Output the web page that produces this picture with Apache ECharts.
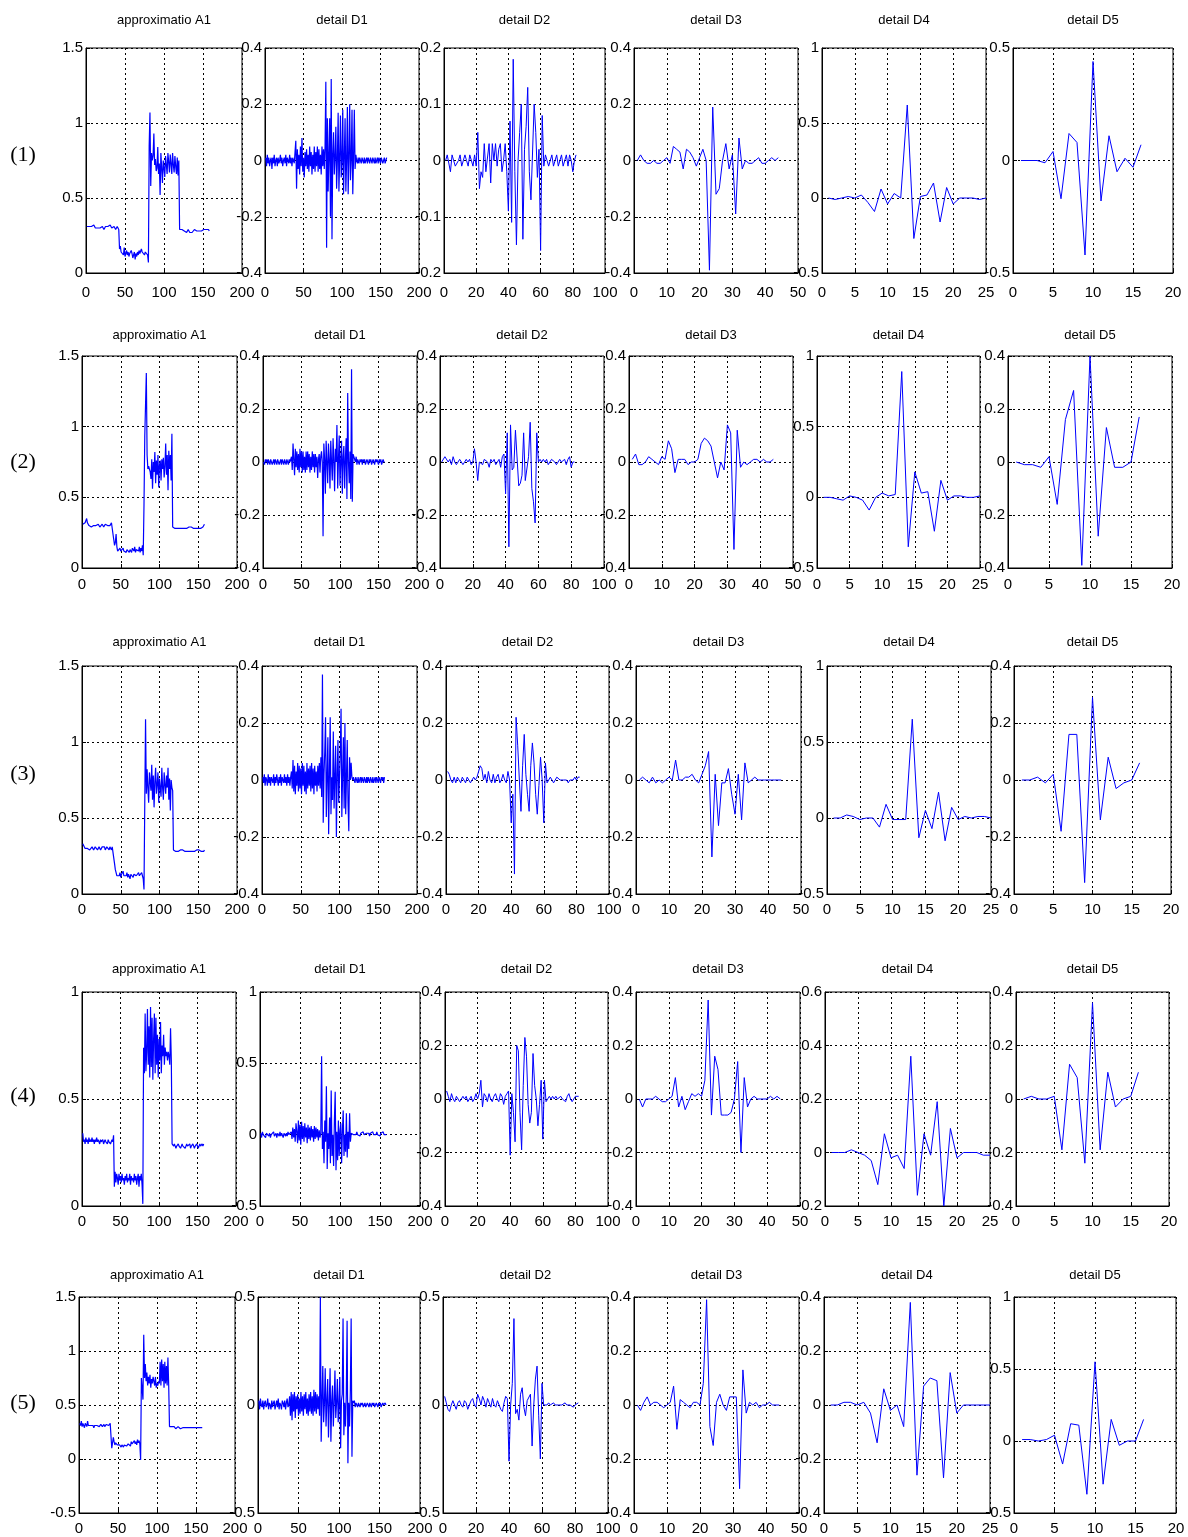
<!DOCTYPE html>
<html><head><meta charset="utf-8">
<script src="https://cdn.jsdelivr.net/npm/echarts@6/dist/echarts.min.js"></script>
<style>html,body{margin:0;padding:0;background:#fff}#c{width:1188px;height:1537px}</style>
</head><body><div id="c"></div>
<script>
// ---------- DATA ----------
const titles = ['approximatio A1','detail D1','detail D2','detail D3','detail D4','detail D5'];
const rowLabels = ['(1)','(2)','(3)','(4)','(5)'];
const xMax = [200,200,100,50,25,20];
const xStep = [50,50,20,10,5,5];
// y-axis tick ranges [min,max,step] per row / column
const yTicks = [
 [[0,1.5,0.5],[-0.4,0.4,0.2],[-0.2,0.2,0.1],[-0.4,0.4,0.2],[-0.5,1,0.5],[-0.5,0.5,0.5]],
 [[0,1.5,0.5],[-0.4,0.4,0.2],[-0.4,0.4,0.2],[-0.4,0.4,0.2],[-0.5,1,0.5],[-0.4,0.4,0.2]],
 [[0,1.5,0.5],[-0.4,0.4,0.2],[-0.4,0.4,0.2],[-0.4,0.4,0.2],[-0.5,1,0.5],[-0.4,0.4,0.2]],
 [[0,1,0.5],[-0.5,1,0.5],[-0.4,0.4,0.2],[-0.4,0.4,0.2],[-0.2,0.6,0.2],[-0.4,0.4,0.2]],
 [[-0.5,1.5,0.5],[-0.5,0.5,0.5],[-0.5,0.5,0.5],[-0.4,0.4,0.2],[-0.4,0.4,0.2],[-0.5,1,0.5]]
];

const r1A1 = [0.31,0.30,0.31,0.31,0.30,0.32,0.31,0.30,0.31,0.32,0.31,0.30,0.30,0.31,0.30,0.29,0.29,0.30,0.29,0.30,0.31,0.30,0.29,0.30,0.31,0.32,0.31,0.31,0.30,0.31,0.32,0.31,0.30,0.31,0.30,0.31,0.30,0.29,0.30,0.31,0.30,0.29,
0.16,0.18,0.14,0.13,0.15,0.12,0.17,0.11,0.13,0.15,0.12,0.14,0.11,0.13,0.12,0.15,0.13,0.10,0.12,0.14,0.09,0.13,0.11,0.14,0.12,0.15,0.13,0.12,0.16,0.14,0.13,0.15,0.12,0.14,0.13,0.15,0.12,0.07,
0.85,1.07,0.58,0.80,0.75,0.78,0.93,0.72,0.76,0.68,0.70,0.84,0.66,0.73,0.52,0.80,0.70,0.60,0.75,0.70,0.64,0.78,0.72,0.66,0.80,0.74,0.67,0.79,0.73,0.66,0.80,0.72,0.67,0.78,0.71,0.66,0.77,0.65,0.75,0.29,
0.29,0.28,0.29,0.28,0.29,0.28,0.29,0.28,0.27,0.28,0.29,0.28,0.27,0.28,0.27,0.27,0.28,0.28,0.29,0.28,0.29,0.28,0.29,0.29,0.28,0.28,0.29,0.28,0.29,0.28,0.29,0.28,0.28,0.29,0.28,0.28,0.29,0.28];
const r1D1 = [0.01,-0.02,0.02,-0.01,0.01,-0.02,0.00,0.01,-0.03,0.01,-0.01,0.02,-0.02,0.00,0.01,-0.02,0.01,-0.01,0.00,0.02,-0.01,0.01,-0.02,0.00,0.01,-0.01,0.02,-0.02,0.01,0.00,-0.01,0.02,-0.01,0.01,-0.02,0.01,0.00,-0.01,
0.03,0.07,-0.10,0.04,-0.03,0.02,-0.05,0.05,-0.02,0.08,-0.04,0.01,-0.06,0.03,-0.02,0.04,-0.03,0.02,-0.04,0.05,-0.02,0.03,-0.05,0.02,-0.03,0.05,-0.04,0.03,-0.02,0.05,-0.04,0.04,-0.03,0.02,-0.05,0.05,-0.02,0.04,-0.03,
0.05,0.28,-0.31,0.15,-0.11,0.02,0.15,-0.20,0.29,-0.28,0.02,0.10,-0.05,0.01,0.12,-0.10,0.00,0.17,-0.11,0.01,0.16,-0.06,0.00,0.18,-0.12,0.01,0.15,-0.11,0.00,0.19,-0.12,0.01,0.20,-0.07,0.00,0.18,-0.12,0.01,0.18,-0.03,0.02,
0.00,-0.01,0.01,-0.01,0.01,0.00,-0.01,0.01,0.00,-0.01,0.01,-0.01,0.00,0.01,-0.01,0.01,0.00,-0.01,0.01,0.00,-0.01,0.01,0.00,-0.01,0.01,-0.01,0.00,0.01,-0.01,0.01,0.00,-0.01,0.01,0.00,-0.01,0.00,0.01,-0.01,0.00,0.01];
const r1D2 = [0.00,0.01,0.01,-0.02,0.01,0.01,-0.01,-0.01,0.00,0.01,-0.01,-0.01,0.01,0.00,-0.01,0.01,0.01,-0.01,0.01,-0.01,
0.05,-0.05,-0.02,-0.03,0.03,-0.02,-0.02,0.03,-0.04,0.03,0.00,0.03,-0.01,0.02,0.03,-0.02,0.00,0.03,-0.02,-0.09,
0.07,-0.11,0.18,-0.02,-0.15,0.00,0.05,0.10,-0.14,0.02,0.06,0.13,-0.02,-0.07,-0.07,0.10,0.05,-0.03,0.02,-0.16,0.08,-0.01,
0.01,0.00,-0.01,0.00,0.01,-0.01,0.00,0.01,-0.01,0.00,0.01,-0.01,0.00,0.01,-0.01,0.01,0.00,-0.02,0.00,0.01];
const r1D3 = [0.00,0.02,0.00,-0.01,-0.01,0.00,-0.01,-0.01,0.00,0.01,-0.01,0.05,0.04,0.03,-0.03,0.04,0.03,0.01,-0.02,0.01,0.04,0.00,-0.39,0.19,-0.12,-0.10,0.00,0.06,-0.03,0.02,-0.19,0.08,-0.03,0.00,-0.01,-0.01,0.00,0.01,-0.01,-0.01,0.00,0.01,0.00,0.01];
const r1D4 = [0.00,-0.01,0.00,0.01,0.00,0.02,-0.03,-0.09,0.06,-0.04,0.03,0.00,0.62,-0.27,0.01,0.02,0.10,-0.16,0.07,-0.04,0.00,0.00,0.00,-0.01,0.00];
const r1D5 = [0.00,0.00,0.00,-0.01,0.04,-0.17,0.12,0.08,-0.42,0.44,-0.18,0.11,-0.05,0.01,-0.03,0.07];

const r2A1 = [0.31,0.30,0.31,0.32,0.33,0.35,0.32,0.31,0.30,0.29,0.30,0.29,0.30,0.29,0.30,0.29,0.30,0.30,0.29,0.30,0.31,0.30,0.29,0.30,0.30,0.31,0.30,0.29,0.30,0.31,0.30,0.31,0.30,0.30,0.31,0.30,0.31,0.32,0.31,0.33,
0.20,0.16,0.18,0.24,0.15,0.12,0.13,0.11,0.14,0.12,0.13,0.11,0.14,0.12,0.13,0.12,0.11,0.13,0.12,0.14,0.11,0.13,0.12,0.11,0.14,0.13,0.12,0.15,0.11,0.13,0.12,0.14,0.12,0.15,0.11,0.14,0.12,0.16,0.09,
0.45,0.93,0.94,1.38,0.80,0.70,0.72,0.70,0.68,0.63,0.77,0.56,0.75,0.68,0.82,0.60,0.76,0.66,0.80,0.57,0.73,0.76,0.62,0.77,0.70,0.78,0.64,0.72,0.88,0.66,0.80,0.55,0.83,0.70,0.80,0.62,0.95,0.29,0.29,
0.29,0.28,0.29,0.28,0.28,0.29,0.28,0.28,0.29,0.28,0.28,0.28,0.29,0.28,0.28,0.29,0.28,0.28,0.28,0.29,0.28,0.28,0.29,0.28,0.28,0.28,0.29,0.28,0.28,0.29,0.28,0.28,0.29,0.28,0.28,0.29,0.28,0.29,0.30,0.31];
const r2D1 = [0.00,-0.01,0.01,0.00,0.01,-0.01,0.01,0.00,-0.01,0.01,0.01,-0.01,0.00,0.01,-0.01,0.01,0.00,-0.01,0.01,0.01,-0.01,0.00,0.01,-0.01,0.01,0.00,-0.01,0.01,0.00,-0.01,0.01,0.00,-0.01,0.01,0.00,0.01,
0.02,-0.03,0.07,0.01,-0.05,0.05,-0.02,0.04,-0.03,0.03,-0.04,0.05,-0.02,0.04,-0.04,0.04,-0.03,0.02,-0.04,0.04,-0.03,0.04,-0.02,0.03,-0.04,0.02,-0.03,0.04,-0.02,0.03,-0.04,0.03,-0.02,0.02,-0.06,0.01,0.03,-0.04,0.02,
0.04,0.00,-0.28,0.07,0.01,-0.12,0.08,0.00,-0.08,0.07,0.01,-0.10,0.08,0.00,-0.07,0.09,0.01,-0.11,0.05,0.00,0.14,-0.10,0.01,0.10,-0.09,0.00,0.08,-0.12,0.02,0.06,-0.10,0.01,0.09,-0.14,0.26,0.00,-0.08,0.04,-0.14,0.35,-0.15,0.03,0.02,
0.01,0.00,0.02,-0.01,0.01,0.00,-0.01,0.01,0.00,0.01,-0.01,0.01,0.00,0.01,-0.01,0.00,0.01,0.00,-0.01,0.01,0.00,0.01,-0.01,0.00,0.01,0.00,-0.01,0.01,0.00,0.01,0.00,-0.01,0.01,0.00,0.01,-0.01,0.00,0.01,0.00,0.00];
const r2D2 = [0.00,0.00,0.02,0.02,0.00,0.01,-0.01,0.02,0.00,-0.01,0.00,0.01,0.01,-0.01,0.00,0.01,0.00,0.01,-0.01,0.00,
0.05,0.00,-0.07,0.00,0.00,-0.01,0.01,0.01,0.00,-0.02,0.01,0.00,0.01,-0.01,0.00,0.01,-0.02,0.02,0.03,
-0.12,0.11,-0.32,0.14,-0.03,-0.02,0.12,0.12,-0.09,-0.08,-0.05,0.11,-0.07,-0.07,0.02,0.15,-0.10,-0.15,-0.23,0.11,0.00,0.01,0.00,
0.01,0.00,0.01,-0.01,0.00,0.01,0.01,0.00,-0.01,0.00,0.01,0.00,0.00,0.01,-0.01,0.01,0.02,-0.02,0.00,0.00];
const r2D3 = [0.01,0.03,-0.01,-0.01,0.00,0.02,0.01,0.00,-0.01,0.02,0.01,0.08,0.05,-0.04,0.01,0.01,0.01,-0.01,0.00,0.00,0.01,0.07,0.09,0.08,0.06,0.00,-0.06,0.00,-0.03,0.14,0.11,-0.33,0.12,-0.02,0.00,-0.01,0.00,0.01,0.01,0.00,0.01,0.00,0.00,0.01];
const r2D4 = [0.00,0.00,-0.01,-0.02,0.01,0.00,-0.02,-0.09,0.00,0.03,0.01,0.02,0.89,-0.35,0.18,0.03,0.04,-0.24,0.12,-0.02,0.01,0.01,0.00,0.00,0.01];
const r2D5 = [0.00,-0.01,-0.01,-0.02,0.02,-0.16,0.16,0.27,-0.39,0.40,-0.28,0.13,-0.02,-0.02,0.00,0.17];

const r3A1 = [0.33,0.32,0.33,0.30,0.31,0.29,0.30,0.31,0.30,0.29,0.30,0.30,0.31,0.30,0.29,0.30,0.31,0.30,0.30,0.29,0.30,0.31,0.30,0.29,0.30,0.31,0.30,0.30,0.31,0.29,0.30,0.31,0.30,0.30,0.29,0.31,0.30,0.29,0.31,0.30,0.32,
0.20,0.16,0.14,0.12,0.13,0.11,0.12,0.14,0.11,0.13,0.12,0.15,0.12,0.11,0.13,0.12,0.14,0.11,0.13,0.12,0.10,0.13,0.12,0.14,0.11,0.13,0.12,0.14,0.12,0.11,0.13,0.14,0.12,0.13,0.11,0.14,0.12,0.10,0.03,
0.60,1.15,0.66,0.82,0.70,0.60,0.80,0.74,0.68,0.85,0.62,0.78,0.57,0.74,0.83,0.66,0.72,0.80,0.60,0.76,0.70,0.64,0.83,0.70,0.62,0.80,0.72,0.66,0.78,0.70,0.83,0.62,0.76,0.55,0.75,0.70,0.68,0.29,
0.28,0.29,0.28,0.28,0.29,0.28,0.28,0.28,0.29,0.28,0.28,0.29,0.28,0.28,0.28,0.29,0.28,0.28,0.29,0.28,0.28,0.28,0.29,0.28,0.28,0.29,0.28,0.28,0.28,0.29,0.28,0.28,0.29,0.28,0.28,0.28,0.29,0.28,0.28,0.29];
const r3D1 = [0.01,-0.01,0.02,-0.02,0.01,0.00,-0.02,0.02,-0.01,0.01,-0.02,0.01,0.00,-0.01,0.02,-0.02,0.01,-0.01,0.02,0.00,-0.02,0.01,-0.01,0.02,-0.02,0.01,0.00,-0.01,0.02,-0.01,0.01,-0.02,0.02,-0.01,0.01,-0.02,0.01,
0.03,-0.03,0.07,-0.04,0.05,-0.05,0.03,-0.02,0.06,-0.04,0.05,-0.03,0.04,-0.05,0.06,-0.02,0.05,-0.04,0.03,-0.05,0.06,-0.03,0.04,-0.02,0.05,-0.04,0.06,-0.03,0.04,-0.05,0.05,-0.02,0.03,-0.04,0.05,-0.02,0.06,-0.03,
0.08,-0.06,0.37,-0.15,0.02,0.10,0.22,-0.13,0.01,0.15,-0.19,0.02,0.22,-0.12,0.01,-0.07,0.17,-0.10,0.01,0.12,-0.20,0.02,0.14,-0.08,0.01,0.10,0.25,-0.13,0.02,0.15,-0.10,0.20,-0.12,0.01,0.14,-0.08,-0.18,0.08,0.00,0.06,0.01,0.00,0.01,
0.01,-0.01,0.01,0.00,-0.01,0.01,-0.01,0.00,0.01,-0.01,0.01,0.00,-0.01,0.01,0.00,-0.01,0.01,-0.01,0.01,0.00,-0.01,0.01,0.00,-0.01,0.01,-0.01,0.00,0.01,-0.01,0.01,0.00,-0.01,0.01,0.00,-0.01,0.01,0.00,0.01,-0.01,0.01];
const r3D2 = [0.03,0.02,0.00,-0.01,0.01,-0.01,0.01,0.00,-0.01,0.01,0.00,-0.01,0.01,0.01,-0.01,0.00,0.01,0.00,0.01,0.01,
0.05,0.04,0.00,0.02,-0.01,0.03,0.00,-0.01,0.02,-0.01,0.01,0.02,-0.01,0.00,0.02,0.00,-0.01,0.03,0.00,
-0.15,-0.05,-0.33,0.22,0.12,0.00,-0.11,0.05,0.16,0.02,-0.05,-0.11,0.05,0.13,0.06,-0.05,-0.12,-0.02,0.08,0.00,-0.15,0.06,-0.01,
0.00,0.01,0.00,-0.01,0.00,0.01,0.01,0.00,0.00,0.00,0.00,0.00,-0.01,0.00,0.00,0.00,0.01,0.00,0.01,0.01];
const r3D3 = [0.00,0.01,0.00,-0.01,0.01,-0.01,0.00,-0.01,0.00,0.01,0.00,0.07,0.00,0.00,0.01,0.01,0.02,0.00,-0.01,0.02,0.05,0.10,-0.27,0.02,-0.16,-0.01,-0.01,0.04,-0.05,-0.12,0.02,-0.14,0.06,-0.01,0.00,0.01,0.00,0.00,0.00,0.00,0.00,0.00,0.00,0.00];
const r3D4 = [0.00,0.00,0.02,0.01,-0.01,0.00,0.00,-0.06,0.09,-0.01,-0.01,-0.01,0.65,-0.13,0.05,-0.07,0.17,-0.15,0.07,-0.01,0.01,0.00,0.01,0.01,0.00];
const r3D5 = [0.00,0.00,0.01,-0.01,0.02,-0.18,0.16,0.16,-0.36,0.29,-0.14,0.08,-0.03,-0.01,0.00,0.06];

const r4A1 = [0.34,0.30,0.31,0.29,0.32,0.30,0.31,0.29,0.32,0.30,0.31,0.30,0.32,0.30,0.31,0.29,0.31,0.30,0.32,0.30,0.31,0.30,0.29,0.31,0.30,0.30,0.31,0.29,0.30,0.31,0.30,0.30,0.29,0.31,0.30,0.30,0.29,0.30,0.31,0.30,0.33,
0.09,0.16,0.11,0.15,0.13,0.10,0.15,0.12,0.14,0.11,0.15,0.12,0.13,0.10,0.14,0.12,0.15,0.11,0.13,0.12,0.15,0.10,0.14,0.12,0.13,0.11,0.15,0.12,0.14,0.10,0.13,0.15,0.09,0.14,0.12,0.15,0.10,
0.01,0.74,0.62,0.90,0.63,0.72,0.92,0.66,0.84,0.60,0.93,0.65,0.88,0.59,0.78,0.90,0.62,0.88,0.66,0.80,0.60,0.78,0.68,0.86,0.62,0.75,0.70,0.80,0.66,0.74,0.70,0.72,0.68,0.72,0.70,0.66,0.83,0.68,0.29,
0.29,0.28,0.29,0.28,0.27,0.28,0.28,0.29,0.28,0.28,0.27,0.28,0.29,0.28,0.28,0.28,0.27,0.28,0.29,0.28,0.28,0.28,0.29,0.27,0.28,0.28,0.29,0.28,0.27,0.28,0.28,0.29,0.28,0.27,0.28,0.29,0.28,0.28,0.29,0.28,0.29];
const r4D1 = [0.01,-0.02,0.02,0.00,-0.01,0.01,-0.02,0.01,0.00,0.02,-0.01,0.01,-0.02,0.00,0.01,-0.01,0.02,-0.01,0.00,0.01,-0.02,0.01,0.00,-0.01,0.02,-0.01,0.01,0.00,-0.02,0.01,0.00,-0.01,0.01,-0.01,0.02,0.00,-0.01,0.01,
0.02,-0.03,0.05,-0.02,0.04,-0.05,0.08,0.02,-0.06,0.10,-0.04,0.07,-0.07,0.09,-0.03,0.06,-0.05,0.08,-0.02,0.05,-0.06,0.07,-0.03,0.05,-0.04,0.06,-0.02,0.04,-0.05,0.06,-0.03,0.05,-0.02,0.04,-0.04,0.03,-0.02,0.01,
0.55,-0.10,0.02,-0.20,0.10,-0.05,0.34,-0.24,0.01,-0.10,0.12,-0.20,0.31,-0.15,0.00,-0.22,0.10,0.30,-0.25,0.02,-0.18,0.10,-0.15,0.03,0.08,-0.20,0.02,0.17,-0.15,0.00,-0.12,0.15,-0.16,0.02,-0.10,0.15,-0.05,0.01,0.00,0.01,0.00,0.01,
0.01,0.00,0.02,0.00,0.01,0.01,-0.01,0.01,0.00,0.01,0.02,0.00,0.01,0.00,0.01,0.02,0.00,0.01,-0.01,0.01,0.01,0.00,0.02,0.00,0.01,0.01,0.00,0.02,0.00,0.01,0.01,-0.01,0.01,0.00,0.01,0.02,0.00,0.01,0.00,0.00];
const r4D2 = [0.03,0.01,-0.01,0.02,0.00,-0.01,0.01,0.01,-0.01,0.00,0.01,0.00,0.01,-0.01,0.00,0.01,-0.01,0.00,0.02,0.00,0.02,
0.07,-0.03,0.02,0.01,-0.01,0.02,0.00,-0.01,0.01,0.02,0.00,-0.01,0.02,0.01,-0.02,0.01,0.02,0.03,
-0.21,0.02,-0.05,-0.16,0.20,0.18,-0.05,-0.19,0.05,0.23,0.16,-0.02,-0.09,-0.05,0.17,0.05,0.00,-0.10,-0.02,0.07,-0.15,0.07,-0.01,
0.00,0.01,0.00,0.01,0.00,0.01,0.00,0.00,0.01,0.00,0.00,-0.01,0.01,0.02,0.00,-0.01,0.00,0.01,0.01,0.01];
const r4D3 = [0.00,-0.03,0.00,0.00,0.00,0.01,0.00,-0.01,-0.01,0.00,0.01,0.08,-0.03,0.01,-0.04,-0.01,0.02,0.01,0.02,0.01,0.07,0.37,-0.06,0.16,0.11,-0.06,-0.06,-0.06,-0.05,0.00,0.14,-0.20,0.08,-0.03,0.00,0.01,0.00,0.00,0.00,0.00,0.01,0.00,0.01,0.00];
const r4D4 = [0.00,0.00,0.00,0.01,0.00,-0.01,-0.03,-0.12,0.07,-0.02,-0.01,-0.06,0.36,-0.16,0.07,-0.01,0.19,-0.20,0.09,-0.02,0.00,0.00,0.00,-0.01,-0.01];
const r4D5 = [0.00,0.01,0.00,0.00,0.01,-0.19,0.13,0.08,-0.24,0.36,-0.19,0.10,-0.03,0.00,0.01,0.10];

const r5A1 = [0.33,0.31,0.35,0.30,0.33,0.31,0.29,0.33,0.32,0.30,0.35,0.31,0.32,0.30,0.31,0.32,0.30,0.31,0.29,0.31,0.32,0.30,0.31,0.32,0.31,0.30,0.31,0.32,0.31,0.30,0.31,0.32,0.30,0.31,0.32,0.31,0.32,0.31,0.32,0.33,0.33,
0.10,0.15,0.20,0.16,0.13,0.15,0.14,0.13,0.12,0.14,0.13,0.12,0.11,0.13,0.12,0.11,0.13,0.12,0.14,0.12,0.13,0.14,0.15,0.13,0.12,0.16,0.14,0.13,0.15,0.17,0.14,0.16,0.13,0.18,0.15,0.17,0.14,
-0.01,0.75,0.74,0.55,1.15,0.75,0.88,0.72,0.80,0.68,0.76,0.70,0.78,0.66,0.74,0.70,0.76,0.72,0.68,0.76,0.66,0.70,0.68,0.72,0.70,0.90,0.68,0.92,0.72,0.88,0.66,0.90,0.70,0.86,0.68,0.94,0.68,0.30,0.30,
0.29,0.30,0.29,0.29,0.30,0.29,0.28,0.29,0.29,0.30,0.29,0.29,0.28,0.29,0.29,0.29,0.30,0.29,0.29,0.28,0.29,0.29,0.29,0.30,0.29,0.29,0.28,0.29,0.29,0.29,0.29,0.28,0.29,0.29,0.30,0.29,0.29,0.28,0.29,0.29,0.29];
const r5D1 = [0.02,-0.02,0.03,0.00,-0.01,0.02,-0.02,0.01,0.02,-0.01,0.00,0.03,-0.02,0.01,0.00,-0.02,0.02,-0.01,0.01,0.02,-0.02,0.00,0.02,-0.01,0.03,-0.02,0.01,0.00,-0.02,0.02,0.01,-0.01,0.02,-0.02,0.01,0.03,-0.01,0.00,
0.04,-0.05,0.06,-0.07,0.05,-0.03,0.06,-0.06,0.04,-0.02,0.05,-0.05,0.03,-0.04,0.06,-0.03,0.04,-0.05,0.05,-0.02,0.06,-0.04,0.03,-0.05,0.05,-0.03,0.06,-0.04,0.04,-0.05,0.07,-0.03,0.06,-0.04,0.05,-0.02,0.04,-0.05,
0.50,-0.17,0.02,0.18,-0.08,0.01,0.17,-0.10,0.02,0.12,-0.15,0.01,0.17,-0.17,0.02,0.09,-0.10,0.01,0.16,-0.06,0.01,0.12,-0.08,0.00,0.13,-0.20,0.02,0.05,0.40,-0.14,0.01,-0.10,0.05,0.39,-0.27,0.01,-0.10,0.06,0.40,-0.24,0.02,0.01,
0.02,-0.01,0.01,0.00,-0.01,0.01,0.00,-0.01,0.01,0.00,0.01,-0.01,0.00,0.01,-0.01,0.00,0.01,0.00,-0.01,0.01,0.00,-0.01,0.01,0.00,0.01,-0.01,0.00,0.01,0.00,-0.01,0.01,0.00,0.01,-0.01,0.00,0.01,0.00,0.00,0.01,0.00];
const r5D2 = [0.04,0.01,-0.02,-0.03,0.00,0.02,0.00,-0.02,0.01,0.02,0.00,-0.01,0.02,0.01,-0.02,0.00,0.02,0.03,0.00,-0.01,
0.05,0.03,0.00,0.04,0.02,-0.01,0.03,0.01,-0.01,0.03,0.00,-0.01,0.02,0.00,-0.02,-0.03,0.01,0.04,0.03,
-0.26,0.00,0.10,0.40,-0.04,-0.02,-0.07,0.05,0.08,-0.01,-0.05,0.02,0.02,0.05,-0.19,0.00,0.12,0.18,-0.05,-0.25,0.10,0.00,0.00,
0.00,0.01,0.00,0.00,0.01,0.00,0.00,0.00,0.00,0.00,0.00,0.01,0.00,0.00,0.00,0.00,-0.01,0.00,0.00,0.01];
const r5D3 = [0.00,-0.02,0.01,0.03,0.00,0.01,0.01,0.00,-0.01,0.00,0.01,0.07,-0.09,0.02,0.01,0.00,-0.01,0.01,0.01,0.00,0.08,0.39,-0.08,-0.15,0.01,0.04,0.00,-0.02,0.03,0.03,0.03,-0.31,0.13,-0.03,0.01,0.00,0.01,-0.01,0.00,0.00,0.01,0.00,0.00,0.00];
const r5D4 = [0.00,0.00,0.01,0.01,0.00,0.01,-0.03,-0.14,0.06,-0.02,0.00,-0.08,0.38,-0.26,0.07,0.10,0.09,-0.27,0.12,-0.03,0.00,0.00,0.00,0.00,0.00];
const r5D5 = [0.01,0.01,0.00,0.01,0.04,-0.16,0.12,0.11,-0.37,0.55,-0.30,0.15,-0.03,0.00,0.00,0.15];

const seriesData = [
 [r1A1,r1D1,r1D2,r1D3,r1D4,r1D5],
 [r2A1,r2D1,r2D2,r2D3,r2D4,r2D5],
 [r3A1,r3D1,r3D2,r3D3,r3D4,r3D5],
 [r4A1,r4D1,r4D2,r4D3,r4D4,r4D5],
 [r5A1,r5D1,r5D2,r5D3,r5D4,r5D5]
];

// ---------- LAYOUT ----------
const rowTop = [48,356,666,992,1297];
const rowBottom = [273,568,894,1206,1513];
const colEdges = [
 [[86,242],[265,419],[444,605],[634,798],[822,986],[1013,1173]],
 [[82,237],[263,417],[440,604],[629,793],[817,980],[1008,1172]],
 [[82,237],[262,417],[446,609],[636,801],[827,991],[1014,1171]],
 [[82,236],[260,420],[445,608],[636,800],[825,990],[1016,1169]],
 [[79,235],[258,420],[443,608],[634,799],[824,990],[1014,1176]]
];
const titleY = [20,335,642,969,1275];
const rowLabelY = [155,462,774,1096,1403];
const xLabelMargin = [12,9,8,8,8];
const FONT = "'Liberation Sans Narrow','Arial Narrow','Liberation Sans',sans-serif";

const grids=[], xAxes=[], yAxes=[], series=[], graphics=[];
for (let r=0;r<5;r++){
  for (let c=0;c<6;c++){
    const i = r*6+c;
    const [l,rr] = colEdges[r][c];
    grids.push({left:l, top:rowTop[r], width:rr-l, height:rowBottom[r]-rowTop[r],
      show:true, borderColor:'#000', borderWidth:1, backgroundColor:'#fff'});
    xAxes.push({type:'value', gridIndex:i, min:0, max:xMax[c], interval:xStep[c],
      axisLine:{show:true, onZero:false, lineStyle:{color:'#000', width:1}},
      axisTick:{show:true, inside:true, length:4, lineStyle:{color:'#000'}},
      splitLine:{show:true, lineStyle:{color:'#000', type:[2,3], width:1}},
      axisLabel:{color:'#000', fontSize:15, fontFamily:FONT, margin:xLabelMargin[r], showMinLabel:true, showMaxLabel:true}});
    const yt = yTicks[r][c];
    yAxes.push({type:'value', gridIndex:i, min:yt[0], max:yt[1], interval:yt[2],
      axisLine:{show:true, onZero:false, lineStyle:{color:'#000', width:1}},
      axisTick:{show:true, inside:true, length:4, lineStyle:{color:'#000'}},
      splitLine:{show:true, lineStyle:{color:'#000', type:[2,3], width:1}},
      axisLabel:{color:'#000', fontSize:15, fontFamily:FONT, margin:3, showMinLabel:true, showMaxLabel:true}});
    const arr = seriesData[r][c];
    series.push({type:'line', xAxisIndex:i, yAxisIndex:i, symbol:'none', showSymbol:false,
      data: arr.map((v,k)=>[k+1,v]), clip:true,
      lineStyle:{color:'#0000ff', width: c<2 ? 1.2 : 1}});
    graphics.push({type:'text', x:(l+rr)/2, y:titleY[r], style:{text:titles[c], fill:'#000',
      font:"13px "+FONT, textAlign:'center', textVerticalAlign:'middle'}});
  }
  graphics.push({type:'text', x:23, y:rowLabelY[r], style:{text:rowLabels[r], fill:'#000',
    font:"22px 'Liberation Serif','Times New Roman',serif", textAlign:'center', textVerticalAlign:'middle'}});
}

const chart = echarts.init(document.getElementById('c'), null, {renderer:'canvas'});
chart.setOption({animation:false, backgroundColor:'#fff', grid:grids, xAxis:xAxes, yAxis:yAxes, series:series, graphic:graphics});
</script>
</body></html>
